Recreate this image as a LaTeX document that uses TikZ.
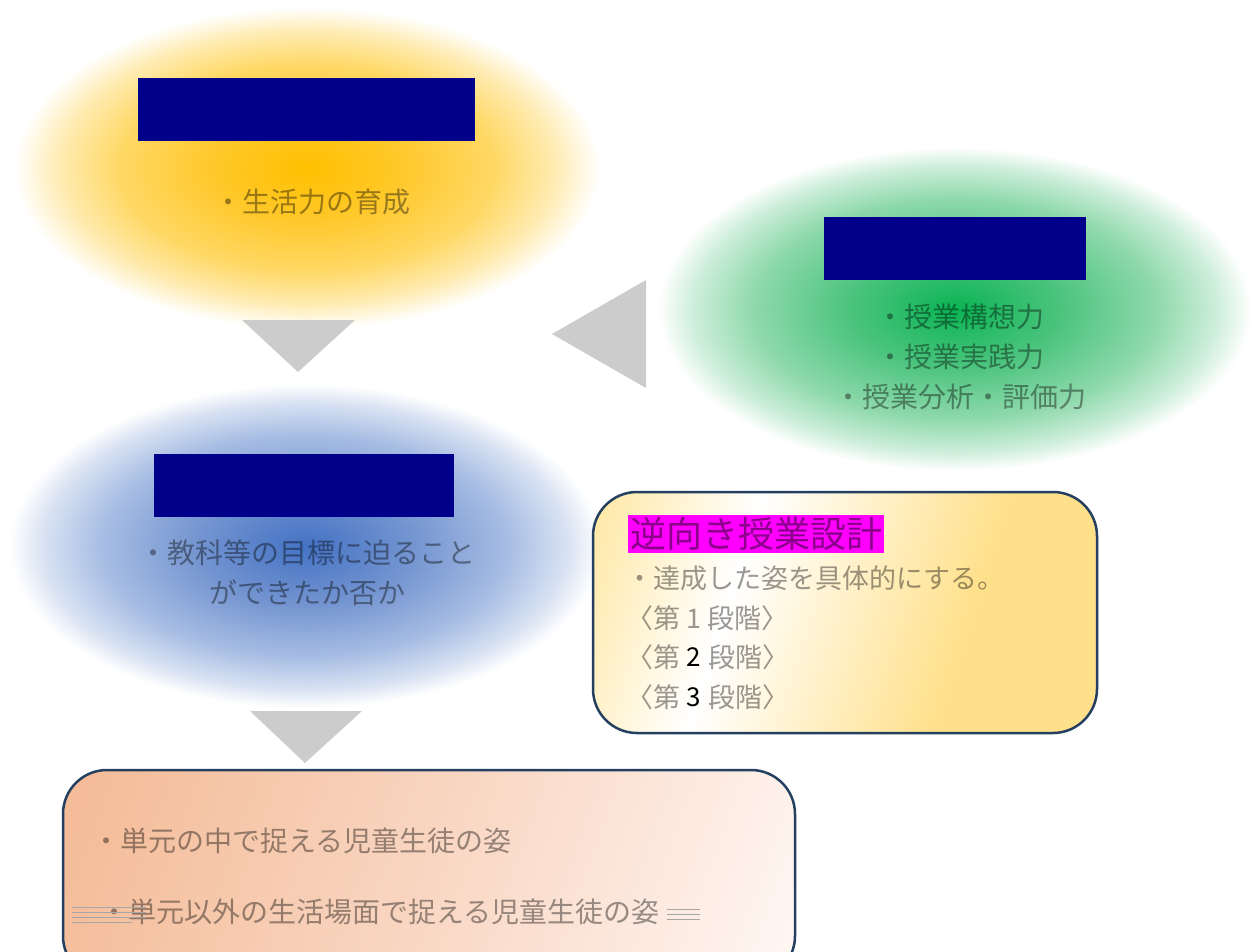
\documentclass[tikz,border=0pt]{standalone}
\usepackage{fontspec}
\newfontfamily\jp{Noto Sans CJK JP}
\usetikzlibrary{shapes.geometric}
\definecolor{navyc}{HTML}{00008B}
\definecolor{arrowgray}{HTML}{CCCCCC}
\definecolor{panelborder}{HTML}{243F60}
\definecolor{titlemag}{HTML}{FF00FF}
\definecolor{yA}{HTML}{FFC000}
\definecolor{yB}{HTML}{FFC82A}
\definecolor{yC}{HTML}{FFD865}
\definecolor{yD}{HTML}{FFEBB0}
\definecolor{gA}{HTML}{0BB454}
\definecolor{gB}{HTML}{4CC47E}
\definecolor{gC}{HTML}{8FD9AC}
\definecolor{gD}{HTML}{CDEEDA}
\definecolor{bA}{HTML}{4472C4}
\definecolor{bB}{HTML}{7394D0}
\definecolor{bC}{HTML}{A6BCE3}
\definecolor{bD}{HTML}{D7E1F2}
\definecolor{pA}{HTML}{FFE7A0}
\definecolor{pB}{HTML}{FFE08A}
\definecolor{oA}{HTML}{F4BC98}
\definecolor{oB}{HTML}{F9D6C2}
\definecolor{oC}{HTML}{FFF7F4}
\pgfdeclareradialshading{yelsh}{\pgfpoint{0bp}{0bp}}{color(0bp)=(yA); color(8bp)=(yB); color(16bp)=(yC); color(21bp)=(yD); color(25bp)=(white); color(50bp)=(white)}
\pgfdeclareradialshading{grnsh}{\pgfpoint{0bp}{0bp}}{color(0bp)=(gA); color(9bp)=(gB); color(17bp)=(gC); color(22bp)=(gD); color(25bp)=(white); color(50bp)=(white)}
\pgfdeclareradialshading{blush}{\pgfpoint{0bp}{0bp}}{color(0bp)=(bA); color(9bp)=(bB); color(17bp)=(bC); color(22bp)=(bD); color(25bp)=(white); color(50bp)=(white)}
\pgfdeclarehorizontalshading{panelsh}{100bp}{color(0bp)=(pA); color(18bp)=(pA); color(37bp)=(white); color(64bp)=(pB); color(100bp)=(pB)}
\pgfdeclarehorizontalshading{orsh}{100bp}{color(0bp)=(oA); color(20bp)=(oA); color(50bp)=(oB); color(82bp)=(oC); color(100bp)=(oC)}
\tikzset{
  oval/.style={ellipse, inner sep=0pt, draw=none, shade},
  titlebar/.style={fill=navyc, inner sep=0pt, draw=none},
  bodytxt/.style={font=\jp\fontsize{28}{40}\selectfont, text=black, text opacity=0.4, align=center, inner sep=0pt},
  boxtxt/.style={font=\jp\fontsize{27}{40}\selectfont, text=black, text opacity=0.4, inner sep=0pt, anchor=west},
  digit/.style={font=\jp\fontsize{26}{30}\selectfont, text=black, inner sep=0pt, minimum width=27pt, anchor=west},
  tri/.style={fill=arrowgray, draw=none},
  panel/.style={draw=panelborder, line width=2.5pt, rounded corners=44pt, inner sep=0pt},
  artline/.style={draw=black!35, line width=0.8pt}
}
\begin{document}
\begin{tikzpicture}[x=1pt,y=-1pt]
\useasboundingbox[fill=white] (0,0) rectangle (1250,951);

% ovals
\node[oval, shading=yelsh, minimum width=586pt, minimum height=322pt] (life) at (307,168) {};
\node[oval, shading=grnsh, minimum width=594pt, minimum height=324pt] (skill) at (955,309) {};
\node[oval, shading=blush, minimum width=592pt, minimum height=324pt] (goal) at (305,546) {};

% title bars
\node[titlebar, minimum width=337pt, minimum height=63pt] (lifebar) at (306.5,109.5) {};
\node[titlebar, minimum width=262pt, minimum height=63pt] (skillbar) at (955,248.5) {};
\node[titlebar, minimum width=300pt, minimum height=63pt] (goalbar) at (304,485.5) {};

% oval texts
\node[bodytxt] (lifetxt) at (312,202) {・生活力の育成};
\node[bodytxt] (skilltxt) at (960,357) {・授業構想力\\・授業実践力\\・授業分析・評価力};
\node[bodytxt] (goaltxt) at (307,573) {・教科等の目標に迫ること\\ができたか否か};

% grey arrow shapes
\fill[tri] (242,320) -- (355,320) -- (298,372) -- cycle;
\fill[tri] (646,280) -- (646,388) -- (552,334) -- cycle;
\fill[tri] (250,711) -- (362,711) -- (305,763) -- cycle;

% design panel
\node[panel, shading=panelsh, shading angle=-18, minimum width=504pt, minimum height=241pt] (design) at (845,612.5) {};
\node[fill=titlemag, inner xsep=2pt, inner ysep=2pt, font=\jp\fontsize{36}{40}\selectfont, text=black, text opacity=0.45] (designtitle) at (756,534) {逆向き授業設計};
\node[boxtxt] (d1) at (626,578) {・達成した姿を具体的にする。};
\node[boxtxt] (d2) at (626,618) {〈第 1 段階〉};
\node[boxtxt] (d3a) at (626,657) {〈第};
\node[digit] (d3b) at (d3a.east) {2};
\node[boxtxt] (d3c) at (d3b.east) {段階〉};
\node[boxtxt] (d4a) at (626,697) {〈第};
\node[digit] (d4b) at (d4a.east) {3};
\node[boxtxt] (d4c) at (d4b.east) {段階〉};

% bottom panel
\node[panel, shading=orsh, shading angle=-20, minimum width=732pt, minimum height=210pt] (scene) at (429,875) {};
\node[boxtxt, font=\jp\fontsize{28}{40}\selectfont] (s1) at (92,841) {・単元の中で捉える児童生徒の姿};
\node[boxtxt, font=\jp\fontsize{28}{40}\selectfont] (s2) at (100,912) {・単元以外の生活場面で捉える児童生徒の姿};
\draw[artline] (72,907) -- (146,907);
\draw[artline] (72,912) -- (146,912);
\draw[artline] (72,917) -- (146,917);
\draw[artline] (72,922) -- (132,922);
\draw[artline] (667,909) -- (700,909);
\draw[artline] (667,914) -- (700,914);
\draw[artline] (667,919) -- (700,919);
\end{tikzpicture}
\end{document}
